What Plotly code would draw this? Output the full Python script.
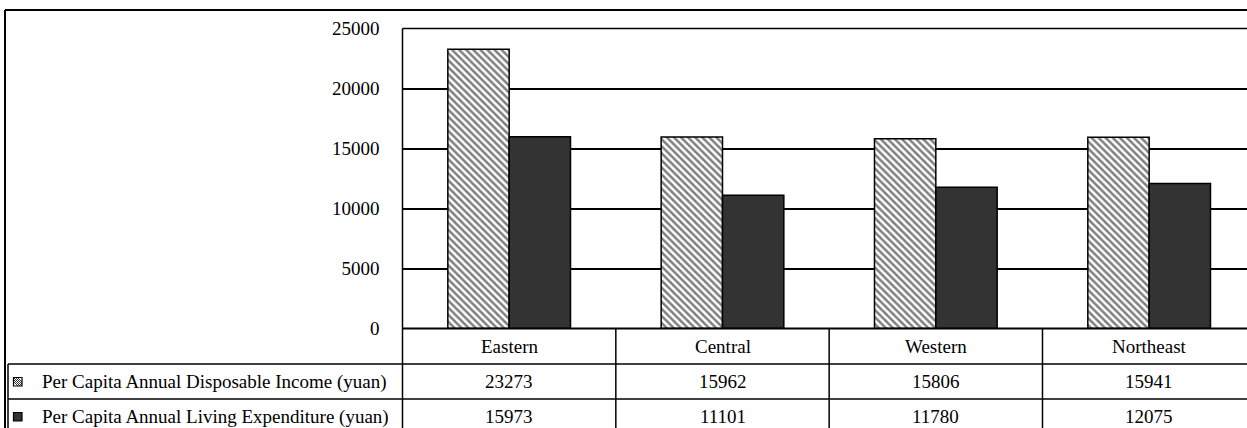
import plotly.graph_objects as go

# Regional per-capita income vs. living expenditure
regions = ["Eastern", "Central", "Western", "Northeast"]
income = [23273, 15962, 15806, 15941]
expenditure = [15973, 11101, 11780, 12075]
series_names = [
    "Per Capita Annual Disposable Income (yuan)",
    "Per Capita Annual Living Expenditure (yuan)",
]
y_ticks = [0, 5000, 10000, 15000, 20000, 25000]

W, H = 1247, 428
FONT = "Liberation Serif, Times New Roman, serif"
FS = 19


def px(x):
    return x / W


def py(y):
    return 1 - y / H


plot_left = 402.5
plot_top = 28.5
plot_bottom = 328.5
cat_w = 213.33
row_lines = [364, 399]

fig = go.Figure()
fig.add_trace(go.Bar(
    x=regions, y=income, name=series_names[0],
    marker=dict(color="white", line=dict(color="black", width=1.5),
                pattern=dict(shape="\\", fgcolor="black", bgcolor="white",
                             size=5, solidity=0.5)),
))
fig.add_trace(go.Bar(
    x=regions, y=expenditure, name=series_names[1],
    marker=dict(color="#333333", line=dict(color="black", width=1.5)),
))

x_span = (W - plot_left) / cat_w

fig.update_layout(
    width=W, height=H, autosize=False,
    margin=dict(l=0, r=0, t=0, b=0, pad=0, autoexpand=False),
    paper_bgcolor="white", plot_bgcolor="white",
    showlegend=False,
    barmode="group", bargap=0.425, bargroupgap=0,
    font=dict(family=FONT, size=FS, color="black"),
    xaxis=dict(domain=[px(plot_left), 1], range=[-0.5, -0.5 + x_span],
               showticklabels=False, showgrid=False, zeroline=False,
               showline=False, ticks="", automargin=False),
    yaxis=dict(domain=[py(plot_bottom), py(plot_top)], range=[0, 25000],
               tickvals=y_ticks, ticktext=[str(v) for v in y_ticks],
               showgrid=True, gridcolor="black", gridwidth=1.5,
               zeroline=False, showline=False, ticks="",
               ticklabelstandoff=22, automargin=False,
               tickfont=dict(family=FONT, size=FS, color="black")),
)

shapes = []
line = dict(color="black", width=1.5)

# outer chart frame (extends past right and bottom edges)
shapes.append(dict(type="line", xref="paper", yref="paper",
                   x0=px(5), x1=1, y0=py(10), y1=py(10), line=dict(color="black", width=2)))
shapes.append(dict(type="line", xref="paper", yref="paper",
                   x0=px(5), x1=px(5), y0=py(10), y1=0, line=dict(color="black", width=2)))

# plot area top border and left axis running down through the table
shapes.append(dict(type="line", xref="paper", yref="paper",
                   x0=px(plot_left), x1=1, y0=py(plot_top), y1=py(plot_top), line=line))
shapes.append(dict(type="line", xref="paper", yref="paper",
                   x0=px(plot_left), x1=px(plot_left), y0=py(plot_top), y1=0, line=line))
# category axis / table header top
shapes.append(dict(type="line", xref="paper", yref="paper",
                   x0=px(plot_left), x1=1, y0=py(plot_bottom), y1=py(plot_bottom),
                   line=dict(color="black", width=2)))

# data table rows
for ry in row_lines:
    shapes.append(dict(type="line", xref="paper", yref="paper",
                       x0=px(8), x1=1, y0=py(ry), y1=py(ry), line=line))
shapes.append(dict(type="line", xref="paper", yref="paper",
                   x0=px(8), x1=px(8), y0=py(row_lines[0]), y1=0, line=line))

# category dividers in the table
for i in range(len(regions) - 1):
    shapes.append(dict(type="line", xref="x", yref="paper",
                       x0=i + 0.5, x1=i + 0.5, y0=py(plot_bottom), y1=0, line=line))

# legend keys
k0, k1 = 13.5, 22
ks = k1 - k0
ky1 = 377.5
shapes.append(dict(type="rect", xref="paper", yref="paper",
                   x0=px(k0), x1=px(k1), y0=py(ky1), y1=py(ky1 + ks),
                   fillcolor="white", line=dict(color="black", width=1.2)))
for off in (-4.0, -2.0, 0, 2.0, 4.0):
    xa, ya = k0 + max(0, off), ky1 + max(0, -off)
    xb, yb = k1 - max(0, -off), ky1 + ks - max(0, off)
    shapes.append(dict(type="line", xref="paper", yref="paper",
                       x0=px(xa), y0=py(ya), x1=px(xb), y1=py(yb),
                       line=dict(color="black", width=0.8)))
ky2 = 412.5
shapes.append(dict(type="rect", xref="paper", yref="paper",
                   x0=px(k0), x1=px(k1), y0=py(ky2), y1=py(ky2 + ks),
                   fillcolor="#333333", line=dict(color="black", width=1.2)))

annotations = []
row_centers = [(plot_bottom + row_lines[0]) / 2,
               (row_lines[0] + row_lines[1]) / 2,
               row_lines[1] + 17.5]
for i, r in enumerate(regions):
    annotations.append(dict(x=i, xref="x", y=py(row_centers[0]), yref="paper",
                            text=r, showarrow=False, xanchor="center", yanchor="middle"))
    annotations.append(dict(x=i, xref="x", y=py(row_centers[1]), yref="paper",
                            text=str(income[i]), showarrow=False, xanchor="center", yanchor="middle"))
    annotations.append(dict(x=i, xref="x", y=py(row_centers[2]), yref="paper",
                            text=str(expenditure[i]), showarrow=False, xanchor="center", yanchor="middle"))
for j, nm in enumerate(series_names):
    annotations.append(dict(x=px(40), xref="paper", y=py(row_centers[j + 1]), yref="paper",
                            text=nm, showarrow=False, xanchor="left", yanchor="middle"))

fig.update_layout(shapes=shapes, annotations=annotations)
fig.write_html("out.html")
